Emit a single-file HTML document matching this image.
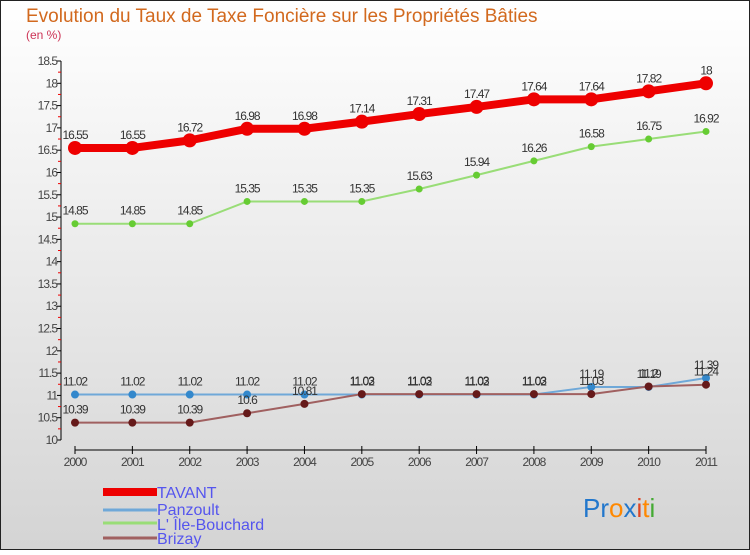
<!DOCTYPE html>
<html><head><meta charset="utf-8"><style>
body{margin:0}
#wrap{width:750px;height:550px;position:relative;font-family:"Liberation Sans",sans-serif;}
svg text{font-family:"Liberation Sans",sans-serif}
</style></head><body>
<div id="wrap">
<svg id="chart" width="750" height="550" xmlns="http://www.w3.org/2000/svg">
<defs><linearGradient id="bg" x1="0" y1="0" x2="0" y2="1"><stop offset="0" stop-color="#ffffff"/><stop offset="1" stop-color="#d4d4d4"/></linearGradient></defs>
<rect x="0.5" y="0.5" width="749" height="549" fill="url(#bg)" stroke="#222"/>
<text x="26" y="22" font-size="19" fill="#d2691e">Evolution du Taux de Taxe Foncière sur les Propriétés Bâties</text>
<text x="26" y="39" font-size="12" fill="#cc3355">(en %)</text>
<g id="axes"></g><g id="series"></g>
<g>
<rect x="103" y="488" width="54" height="8" fill="#ee0000"/>
<text x="157" y="498" font-size="16" fill="#5555ee">TAVANT</text>
<line x1="103" y1="510" x2="157" y2="510" stroke="#6fa8d8" stroke-width="3"/>
<text x="157" y="515" font-size="16" fill="#5555ee">Panzoult</text>
<line x1="103" y1="523" x2="157" y2="523" stroke="#99dd77" stroke-width="3"/>
<text x="157" y="530" font-size="16" fill="#5555ee">L' Île-Bouchard</text>
<line x1="103" y1="538" x2="157" y2="538" stroke="#a06060" stroke-width="3"/>
<text x="157" y="544" font-size="16" fill="#5555ee">Brizay</text>
</g>
<text x="583" y="517" font-size="26"><tspan fill="#2277cc">Pr</tspan><tspan fill="#ff8800">o</tspan><tspan fill="#2277cc">x</tspan><tspan fill="#dd4422">i</tspan><tspan fill="#ff8800">t</tspan><tspan fill="#44aa33">i</tspan></text>
</svg>
</div>
<script>
const years=[2000,2001,2002,2003,2004,2005,2006,2007,2008,2009,2010,2011];
const yTicks=[10,10.5,11,11.5,12,12.5,13,13.5,14,14.5,15,15.5,16,16.5,17,17.5,18,18.5];
const tavant=[16.55,16.55,16.72,16.98,16.98,17.14,17.31,17.47,17.64,17.64,17.82,18];
const panzoult=[11.02,11.02,11.02,11.02,11.02,11.02,11.02,11.02,11.02,11.19,11.19,11.39];
const ileBouchard=[14.85,14.85,14.85,15.35,15.35,15.35,15.63,15.94,16.26,16.58,16.75,16.92];
const brizay=[10.39,10.39,10.39,10.6,10.81,11.03,11.03,11.03,11.03,11.03,11.2,11.24];
const NS="http://www.w3.org/2000/svg";
function xS(i){return 75+i*(706-75)/(years.length-1);}
function yS(v){return 440-(v-10)*(440-61)/8.5;}
function mk(tag,attrs,parent){const e=document.createElementNS(NS,tag);for(const k in attrs)e.setAttribute(k,attrs[k]);parent.appendChild(e);return e;}
const axes=document.getElementById('axes');
let yl=mk('line',{x1:61,y1:yS(18.5),x2:61,y2:yS(10),stroke:'#000'},axes);


yTicks.forEach((t,i)=>{
 mk('line',{x1:57,y1:yS(t),x2:61,y2:yS(t),stroke:'#000'},axes);
 if(i<yTicks.length-1){mk('line',{x1:58,y1:(yS(t)+yS(yTicks[i+1]))/2,x2:61,y2:(yS(t)+yS(yTicks[i+1]))/2,stroke:'#e00'},axes);}
 const tx=mk('text',{x:57,y:yS(t)+4,'font-size':12,fill:'#444','text-anchor':'end','letter-spacing':'-1'},axes);
 tx.textContent=t;
 
 
});
let xl=mk('line',{x1:75,y1:450,x2:706,y2:450,stroke:'#000'},axes);


years.forEach((y,i)=>{
 mk('line',{x1:xS(i),y1:446,x2:xS(i),y2:454,stroke:'#000'},axes);
 const tx=mk('text',{x:xS(i),y:466,'font-size':12,fill:'#444','text-anchor':'middle','letter-spacing':'-1'},axes);
 tx.textContent=y;
 
 
});
const ser=document.getElementById('series');
function draw(vals,name,color,dot,w,r){
 const g=mk('g',{},ser);
 
 
 const pl=mk('polyline',{points:vals.map((v,i)=>xS(i)+','+yS(v)).join(' '),fill:'none',stroke:color,'stroke-width':w,'stroke-linejoin':'round'},g);
 
 
 vals.forEach((v,i)=>{
  const c=mk('circle',{cx:xS(i),cy:yS(v),r:r,fill:dot},g);
  
  
  const t=mk('text',{x:xS(i),y:yS(v)-9,'font-size':12,fill:'#333','text-anchor':'middle','letter-spacing':'-1'},g);
  t.textContent=v;
  
  
 });
}
draw(panzoult,'panzoult','#6fa8d8','#3388cc',2,4);
draw(brizay,'brizay','#a06060','#661a1a',2,4);
draw(ileBouchard,'ile-bouchard','#99dd77','#66cc33',2,3.5);
draw(tavant,'tavant','#ee0000','#ee0000',8,7);
</script>
</body></html>
